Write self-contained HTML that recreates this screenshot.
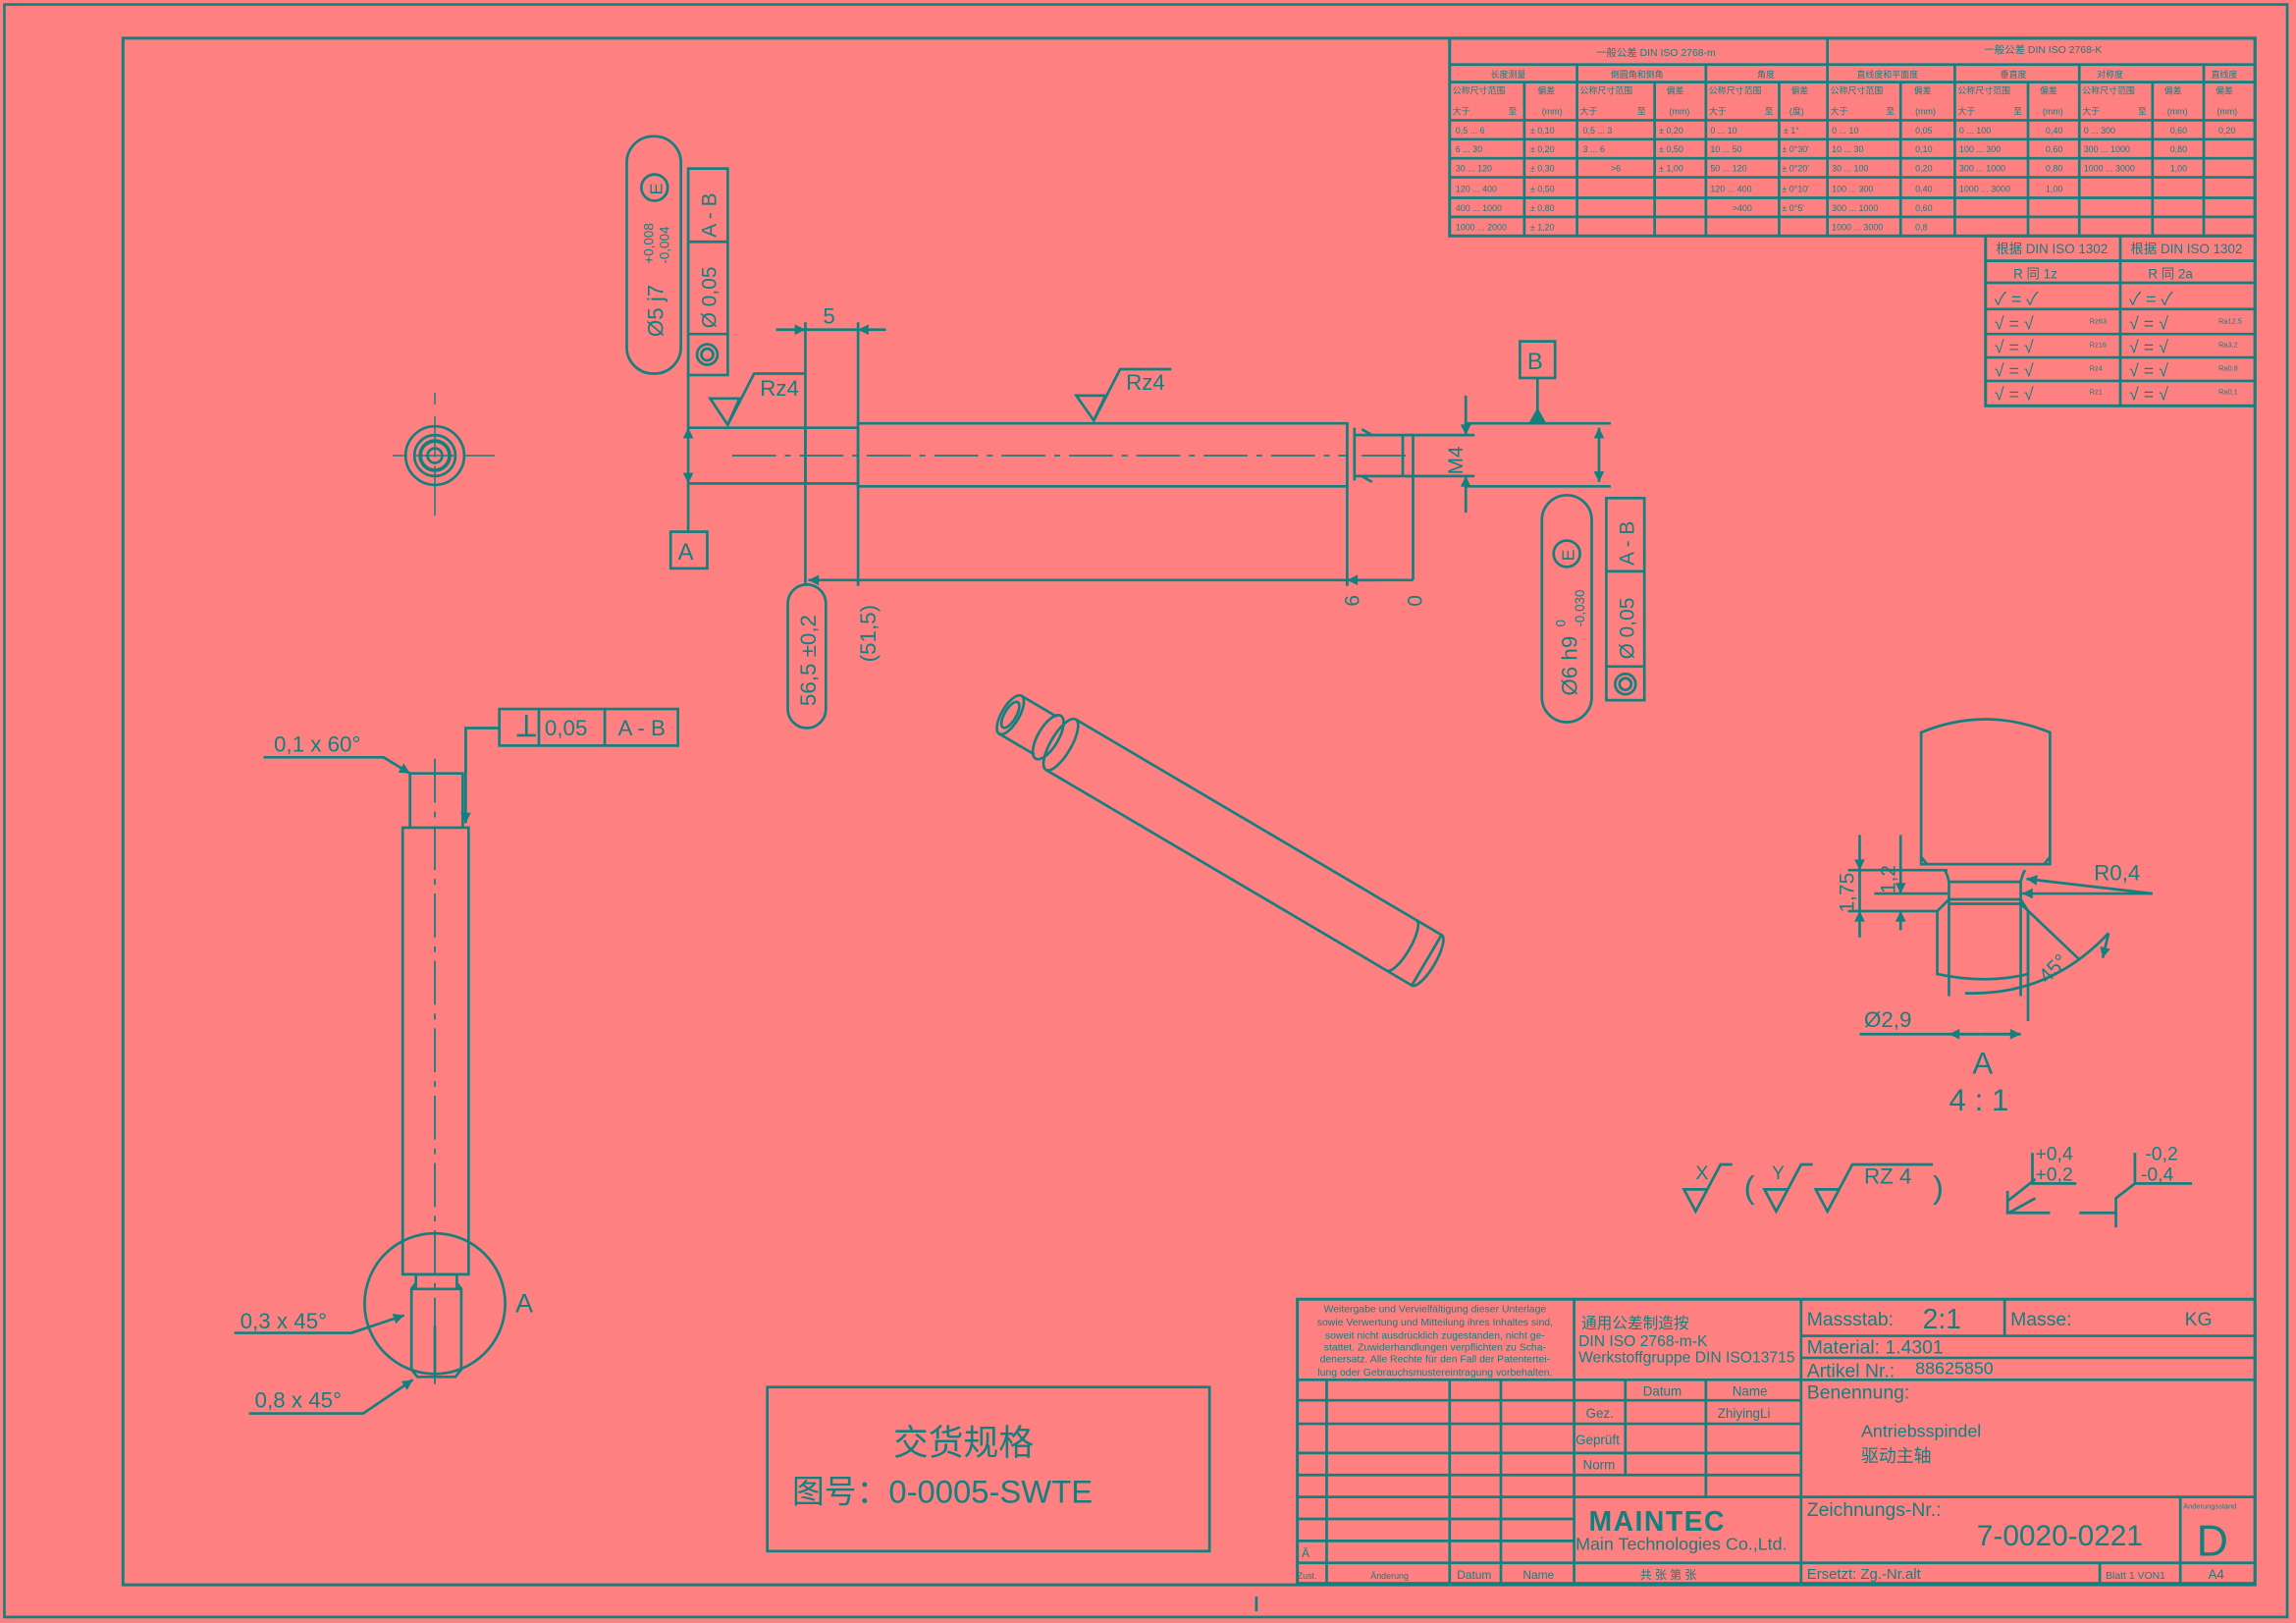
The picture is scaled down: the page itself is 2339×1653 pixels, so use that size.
<!DOCTYPE html>
<html><head><meta charset="utf-8"><style>
html,body{margin:0;padding:0;background:#FF8080;}
svg{display:block}
text{font-family:"Liberation Sans","Noto Sans CJK SC",sans-serif;fill:#138080}
</style></head><body>
<svg width="2339" height="1653" viewBox="0 0 1568 1108" xmlns="http://www.w3.org/2000/svg">
<defs>
<marker id="ar" viewBox="0 0 10 10" refX="10" refY="5" markerWidth="6" markerHeight="4" orient="auto-start-reverse"><path d="M0,0L10,5L0,10z" fill="#138080"/></marker>
</defs>
<rect width="1568" height="1108" fill="#FF8080"/>
<g fill="none" stroke="#138080" stroke-width="1.8">
<rect x="3" y="3" width="1559" height="1101"/>
<rect x="84" y="26" width="1456" height="1056" stroke-width="2"/>
<line x1="858" y1="1090" x2="858" y2="1100"/>

<rect x="990" y="26" width="550" height="135" stroke-width="2"/>
<line x1="990" y1="44" x2="1540" y2="44"/>
<line x1="990" y1="56" x2="1540" y2="56"/>
<line x1="990" y1="82" x2="1540" y2="82"/>
<line x1="990" y1="95" x2="1540" y2="95"/>
<line x1="990" y1="108" x2="1540" y2="108"/>
<line x1="990" y1="121" x2="1540" y2="121"/>
<line x1="990" y1="135" x2="1540" y2="135"/>
<line x1="990" y1="148" x2="1540" y2="148"/>
<line x1="1248" y1="26" x2="1248" y2="161"/>
<line x1="1077" y1="44" x2="1077" y2="161"/>
<line x1="1165" y1="44" x2="1165" y2="161"/>
<line x1="1335" y1="44" x2="1335" y2="161"/>
<line x1="1420" y1="44" x2="1420" y2="161"/>
<line x1="1505" y1="44" x2="1505" y2="161"/>
<line x1="1041" y1="56" x2="1041" y2="161"/>
<line x1="1130" y1="56" x2="1130" y2="161"/>
<line x1="1215" y1="56" x2="1215" y2="161"/>
<line x1="1298" y1="56" x2="1298" y2="161"/>
<line x1="1385" y1="56" x2="1385" y2="161"/>
<line x1="1470" y1="56" x2="1470" y2="161"/>
<rect x="1356" y="161" width="184" height="116" stroke-width="2"/>
<line x1="1448" y1="161" x2="1448" y2="277"/>
<line x1="1356" y1="178" x2="1540" y2="178"/>
<line x1="1356" y1="193" x2="1540" y2="193"/>
<line x1="1356" y1="211" x2="1540" y2="211"/>
<line x1="1356" y1="228" x2="1540" y2="228"/>
<line x1="1356" y1="244" x2="1540" y2="244"/>
<line x1="1356" y1="260" x2="1540" y2="260"/>

<rect x="886" y="887" width="654" height="194" stroke-width="2"/>
<line x1="886" y1="942" x2="1540" y2="942"/>
<line x1="1075" y1="887" x2="1075" y2="1081"/>
<line x1="1230" y1="887" x2="1230" y2="1081"/>
<line x1="1369" y1="887" x2="1369" y2="912"/>
<line x1="1230" y1="912" x2="1540" y2="912"/>
<line x1="1230" y1="927" x2="1540" y2="927"/>
<line x1="906" y1="942" x2="906" y2="1081"/>
<line x1="990" y1="942" x2="990" y2="1081"/>
<line x1="1025" y1="942" x2="1025" y2="1081"/>
<line x1="886" y1="956" x2="1230" y2="956"/>
<line x1="886" y1="972" x2="1230" y2="972"/>
<line x1="886" y1="992" x2="1230" y2="992"/>
<line x1="886" y1="1007" x2="1230" y2="1007"/>
<line x1="886" y1="1022" x2="1540" y2="1022"/>
<line x1="886" y1="1037" x2="1075" y2="1037"/>
<line x1="886" y1="1052" x2="1075" y2="1052"/>
<line x1="886" y1="1067" x2="1540" y2="1067"/>
<line x1="1110" y1="942" x2="1110" y2="1007"/>
<line x1="1165" y1="942" x2="1165" y2="1022"/>
<line x1="1489" y1="1022" x2="1489" y2="1081"/>
<line x1="1434" y1="1067" x2="1434" y2="1081"/>

<rect x="524" y="947" width="302" height="112"/>

<circle cx="297" cy="311" r="20"/><circle cx="297" cy="311" r="14"/><circle cx="297" cy="311" r="10" stroke-width="2.5"/><circle cx="297" cy="311" r="5"/>
<path d="M268 311h8M284 311h26M318 311h20M297 268v8M297 284v28M297 318v34" stroke-width="1"/>

<path d="M470 292H586M470 330H586M586 289H920V332H586ZM550 292V330"/>
<path d="M920 289V332M925 292V328M925 297H965V325H925M930 293L937 297M930 325L937 329M958 297V325"/>
<path d="M500 311H920M930 311H965" stroke-dasharray="30 6 4 6" stroke-width="1.2"/>
<line x1="1000" y1="289" x2="1100" y2="289"/><line x1="1000" y1="332" x2="1100" y2="332"/>
<line x1="960" y1="297" x2="1007" y2="297"/><line x1="960" y1="325" x2="1007" y2="325"/>
<line x1="1092" y1="292" x2="1092" y2="329" marker-start="url(#ar)" marker-end="url(#ar)"/>
<line x1="1001" y1="270" x2="1001" y2="297" marker-end="url(#ar)"/>
<line x1="1001" y1="350" x2="1001" y2="325" marker-end="url(#ar)"/>
<line x1="470" y1="255" x2="470" y2="292"/>
<line x1="470" y1="292" x2="470" y2="330" marker-start="url(#ar)" marker-end="url(#ar)"/>
<line x1="470" y1="330" x2="470" y2="363"/>
<rect x="458" y="363" width="25" height="25"/>
<rect x="1038" y="233" width="24" height="25"/>
<line x1="1050" y1="258" x2="1050" y2="289"/>
<path d="M1045 289L1050 280L1055 289Z" fill="#138080"/>
<line x1="550" y1="220" x2="550" y2="400"/><line x1="586" y1="220" x2="586" y2="400"/>
<line x1="530" y1="225" x2="550" y2="225" marker-end="url(#ar)"/><line x1="605" y1="225" x2="586" y2="225" marker-end="url(#ar)"/>
<line x1="550" y1="225" x2="586" y2="225"/>
<line x1="920" y1="332" x2="920" y2="400"/><line x1="965" y1="325" x2="965" y2="396"/>
<line x1="552" y1="396" x2="965" y2="396" marker-start="url(#ar)"/>
<line x1="920" y1="396" x2="940" y2="396" marker-start="url(#ar)"/>
<rect x="538" y="399" width="26" height="98" rx="13"/>
<path d="M485 272H505L497 290ZM497 290L515 255H550"/>
<path d="M735 270H755L747 287ZM747 287L765 252H800"/>
<rect x="428" y="93" width="37" height="162" rx="18"/>
<rect x="470" y="115" width="27" height="141"/>
<line x1="470" y1="165" x2="497" y2="165"/><line x1="470" y1="228" x2="497" y2="228"/>
<circle cx="483" cy="242" r="7"/><circle cx="483" cy="242" r="4"/>
<rect x="1053" y="338" width="34" height="155" rx="17"/>
<rect x="1097" y="340" width="26" height="138"/>
<line x1="1097" y1="390" x2="1123" y2="390"/><line x1="1097" y1="455" x2="1123" y2="455"/>
<circle cx="1110" cy="467" r="7"/><circle cx="1110" cy="467" r="4"/>
<circle cx="447" cy="128" r="9"/><circle cx="1070" cy="378" r="9"/>

<g transform="translate(690,488) rotate(30.5)">
<path d="M40 -20H330V20H40"/>
<path d="M330 -20A6 20 0 0 1 330 20"/>
<path d="M310 -20A6 20 0 0 1 310 20"/>
<ellipse cx="40" cy="0" rx="7" ry="20"/>
<ellipse cx="30" cy="0" rx="7" ry="17"/>
<path d="M0 -15H28M0 15H28"/>
<ellipse cx="0" cy="0" rx="6" ry="15"/>
<ellipse cx="0" cy="0" rx="4" ry="10"/>
</g>

<path d="M280 528H316V565H280ZM275 565H320V870H275Z"/>
<path d="M284 870H312V880H284ZM281 880L284 876M315 880L312 876M281 880H315V935L311 940H285L281 935Z"/>
<line x1="297" y1="905" x2="297" y2="940"/>
<path d="M297 518V945" stroke-dasharray="30 6 4 6" stroke-width="1.2"/>
<circle cx="297" cy="890" r="48"/>
<path d="M180 517H262L280 528" marker-end="url(#ar)"/>
<path d="M318 528V497H341"/>
<line x1="318" y1="497" x2="318" y2="562" marker-end="url(#ar)"/>
<rect x="341" y="484" width="122" height="25"/>
<line x1="368" y1="484" x2="368" y2="509"/><line x1="413" y1="484" x2="413" y2="509"/>
<path d="M353 502H366M359.5 488V502"/>
<path d="M160 910H240L276 898" marker-end="url(#ar)"/>
<path d="M170 965H248L282 942" marker-end="url(#ar)"/>

<path d="M1312 590V500Q1356 482 1400 500V590Z"/>
<path d="M1312 585L1316 590H1396L1400 585"/>
<path d="M1328 594Q1330 597 1331 602V680M1383 594Q1381 597 1380 602V680"/>
<line x1="1331" y1="602" x2="1380" y2="602"/>
<line x1="1331" y1="614" x2="1380" y2="614"/>
<line x1="1331" y1="617" x2="1380" y2="617"/>
<path d="M1331 614L1323 622V665Q1356 672 1385 665V622L1380 614"/>
<line x1="1385" y1="622" x2="1385" y2="697"/>
<line x1="1380" y1="617" x2="1420" y2="655"/>
<path d="M1342 678Q1400 680 1440 637" />
<line x1="1440" y1="637" x2="1436" y2="654" marker-end="url(#ar)"/>
<line x1="1262" y1="594" x2="1330" y2="594"/>
<line x1="1280" y1="610" x2="1330" y2="610"/>
<line x1="1262" y1="622" x2="1323" y2="622"/>
<line x1="1270" y1="570" x2="1270" y2="594" marker-end="url(#ar)"/><line x1="1270" y1="640" x2="1270" y2="622" marker-end="url(#ar)"/>
<line x1="1270" y1="594" x2="1270" y2="622"/>
<line x1="1298" y1="570" x2="1298" y2="610" marker-end="url(#ar)"/><line x1="1298" y1="635" x2="1298" y2="622" marker-end="url(#ar)"/>
<line x1="1470" y1="610" x2="1384" y2="600" marker-end="url(#ar)"/>
<line x1="1470" y1="610" x2="1381" y2="610" marker-end="url(#ar)"/>
<line x1="1270" y1="706" x2="1380" y2="706"/>
<line x1="1350" y1="706" x2="1331" y2="706" marker-end="url(#ar)"/>
<line x1="1355" y1="706" x2="1380" y2="706" marker-end="url(#ar)"/>

<path d="M1150 812H1166L1158 827ZM1158 827L1175 795H1183"/>
<path d="M1205 812H1221L1213 827ZM1213 827L1230 795H1238"/>
<path d="M1240 812H1256L1248 827ZM1248 827L1265 795H1320"/>
<path d="M1388 787V808H1418M1370 828H1400M1390 818L1372 828" />
<path d="M1371 820L1390 805M1371 813V828"/>
<path d="M1458 787V808H1497M1420 828H1445M1445 838V818L1458 808"/>
</g>

<g font-size="6">
<text x="1090" y="38" font-size="7">一般公差 DIN ISO 2768-m</text>
<text x="1355" y="36" font-size="7">一般公差 DIN ISO 2768-K</text>
<text x="1018" y="53">长度测量</text><text x="1100" y="53">倒圆角和倒角</text><text x="1200" y="53">角度</text>
<text x="1268" y="53">直线度和平面度</text><text x="1366" y="53">垂直度</text><text x="1432" y="53">对称度</text><text x="1510" y="53">直线度</text>
<g>
<text x="992" y="64">公称尺寸范围</text><text x="1050" y="64">偏差</text><text x="1079" y="64">公称尺寸范围</text><text x="1138" y="64">偏差</text><text x="1167" y="64">公称尺寸范围</text><text x="1223" y="64">偏差</text>
<text x="1250" y="64">公称尺寸范围</text><text x="1307" y="64">偏差</text><text x="1337" y="64">公称尺寸范围</text><text x="1393" y="64">偏差</text><text x="1422" y="64">公称尺寸范围</text><text x="1478" y="64">偏差</text><text x="1513" y="64">偏差</text>
<text x="992" y="78">大于</text><text x="1030" y="78">至</text><text x="1053" y="78">(mm)</text><text x="1079" y="78">大于</text><text x="1118" y="78">至</text><text x="1140" y="78">(mm)</text><text x="1167" y="78">大于</text><text x="1205" y="78">至</text><text x="1222" y="78">(度)</text>
<text x="1250" y="78">大于</text><text x="1288" y="78">至</text><text x="1308" y="78">(mm)</text><text x="1337" y="78">大于</text><text x="1375" y="78">至</text><text x="1395" y="78">(mm)</text><text x="1422" y="78">大于</text><text x="1460" y="78">至</text><text x="1480" y="78">(mm)</text><text x="1514" y="78">(mm)</text>
</g>
<text x="994" y="91">0,5   ...      6</text><text x="1045" y="91">± 0,10</text><text x="1081" y="91">0,5   ...     3</text><text x="1133" y="91">±  0,20</text><text x="1168" y="91">0    ...    10</text><text x="1218" y="91">±   1°</text><text x="1251" y="91">0     ...     10</text><text x="1308" y="91">0,05</text><text x="1338" y="91">0    ...    100</text><text x="1397" y="91">0,40</text><text x="1423" y="91">0    ...    300</text><text x="1482" y="91">0,60</text><text x="1515" y="91">0,20</text>
<text x="994" y="104">6     ...     30</text><text x="1045" y="104">± 0,20</text><text x="1081" y="104">3     ...     6</text><text x="1133" y="104">±  0,50</text><text x="1168" y="104">10   ...    50</text><text x="1217" y="104">± 0°30'</text><text x="1251" y="104">10    ...     30</text><text x="1308" y="104">0,10</text><text x="1338" y="104">100  ...  300</text><text x="1397" y="104">0,60</text><text x="1423" y="104">300  ... 1000</text><text x="1482" y="104">0,80</text>
<text x="994" y="117">30    ...   120</text><text x="1045" y="117">± 0,30</text><text x="1100" y="117">&gt;6</text><text x="1133" y="117">± 1,00</text><text x="1168" y="117">50   ...   120</text><text x="1217" y="117">± 0°20'</text><text x="1251" y="117">30    ...   100</text><text x="1308" y="117">0,20</text><text x="1338" y="117">300  ... 1000</text><text x="1397" y="117">0,80</text><text x="1423" y="117">1000 ... 3000</text><text x="1482" y="117">1,00</text>
<text x="994" y="131">120  ...   400</text><text x="1045" y="131">± 0,50</text><text x="1168" y="131">120  ...  400</text><text x="1217" y="131">± 0°10'</text><text x="1251" y="131">100   ...   300</text><text x="1308" y="131">0,40</text><text x="1338" y="131">1000 ... 3000</text><text x="1397" y="131">1,00</text>
<text x="994" y="144">400  ...  1000</text><text x="1045" y="144">± 0,80</text><text x="1183" y="144">&gt;400</text><text x="1217" y="144">± 0°5'</text><text x="1251" y="144">300   ...  1000</text><text x="1308" y="144">0,60</text>
<text x="994" y="157">1000 ...  2000</text><text x="1045" y="157">± 1,20</text><text x="1251" y="157">1000  ... 3000</text><text x="1308" y="157">0,8</text>
</g>
<g font-size="9">
<text x="1363" y="173">根据  DIN ISO 1302</text><text x="1455" y="173">根据  DIN ISO 1302</text>
<text x="1375" y="190">R 同 1z</text><text x="1467" y="190">R 同 2a</text>
</g>
<g font-size="12">
<text x="1362" y="208">✓    =    ✓</text><text x="1454" y="208">✓    =    ✓</text>
<text x="1362" y="225">√    =    √</text><text x="1454" y="225">√    =    √</text>
<text x="1362" y="241">√    =    √</text><text x="1454" y="241">√    =    √</text>
<text x="1362" y="257">√    =    √</text><text x="1454" y="257">√    =    √</text>
<text x="1362" y="273">√    =    √</text><text x="1454" y="273">√    =    √</text>
</g>
<g font-size="5"><text x="1427" y="221">Rz63</text><text x="1427" y="237">Rz16</text><text x="1427" y="253">Rz4</text><text x="1427" y="269">Rz1</text>
<text x="1515" y="221">Ra12,5</text><text x="1515" y="237">Ra3,2</text><text x="1515" y="253">Ra0,8</text><text x="1515" y="269">Ra0,1</text></g>

<text x="562" y="221" font-size="15">5</text>
<text x="519" y="270" font-size="15">Rz4</text>
<text x="769" y="266" font-size="15">Rz4</text>
<text x="463" y="382" font-size="16">A</text>
<text x="1043" y="252" font-size="16">B</text>
<text transform="translate(999,324) rotate(-90)" font-size="14">M4</text>
<text transform="translate(928,414) rotate(-90)" font-size="14">6</text>
<text transform="translate(971,414) rotate(-90)" font-size="14">0</text>
<text transform="translate(557,482) rotate(-90)" font-size="15">56,5 ±0,2</text>
<text transform="translate(598,452) rotate(-90)" font-size="15">(51,5)</text>
<text transform="translate(453,230) rotate(-90)" font-size="15">Ø5 j7</text>
<text transform="translate(446,180) rotate(-90)" font-size="9">+0,008</text>
<text transform="translate(457,180) rotate(-90)" font-size="9">-0,004</text>
<text transform="translate(452,133) rotate(-90)" font-size="12">E</text>
<text transform="translate(489,162) rotate(-90)" font-size="14">A - B</text>
<text transform="translate(489,224) rotate(-90)" font-size="14">Ø 0,05</text>
<text transform="translate(1077,475) rotate(-90)" font-size="15">Ø6 h9</text>
<text transform="translate(1069,428) rotate(-90)" font-size="9">0</text>
<text transform="translate(1082,428) rotate(-90)" font-size="9">-0,030</text>
<text transform="translate(1075,383) rotate(-90)" font-size="12">E</text>
<text transform="translate(1116,386) rotate(-90)" font-size="14">A - B</text>
<text transform="translate(1116,450) rotate(-90)" font-size="14">Ø 0,05</text>
<text x="187" y="513" font-size="15">0,1 x 60°</text>
<text x="372" y="502" font-size="15">0,05</text>
<text x="422" y="502" font-size="15">A - B</text>
<text x="164" y="907" font-size="15">0,3 x 45°</text>
<text x="174" y="961" font-size="15">0,8 x 45°</text>
<text x="352" y="896" font-size="18">A</text>
<text x="1430" y="601" font-size="15">R0,4</text>
<text transform="translate(1266,623) rotate(-90)" font-size="14">1,75</text>
<text transform="translate(1294,610) rotate(-90)" font-size="14">1,2</text>
<text transform="translate(1398,672) rotate(-45)" font-size="14">45°</text>
<text x="1273" y="701" font-size="15">Ø2,9</text>
<text x="1347" y="733" font-size="21">A</text>
<text x="1331" y="758" font-size="21">4 : 1</text>
<text x="1158" y="805" font-size="13">X</text>
<text x="1210" y="805" font-size="13">Y</text>
<text x="1191" y="818" font-size="22">(</text>
<text x="1273" y="808" font-size="15">RZ  4</text>
<text x="1320" y="818" font-size="22">)</text>
<text x="1390" y="792" font-size="13">+0,4</text><text x="1390" y="806" font-size="13">+0,2</text>
<text x="1465" y="792" font-size="13">-0,2</text><text x="1462" y="806" font-size="13">-0,4</text>
<text x="610" y="993" font-size="24" font-family="Noto Serif CJK SC, serif">交货规格</text>
<text x="541" y="1026" font-size="22">图号：0-0005-SWTE</text>

<g font-size="7" text-anchor="middle">
<text x="980" y="896">Weitergabe und Vervielfältigung dieser Unterlage</text>
<text x="980" y="905">sowie Verwertung und Mitteilung ihres Inhaltes sind,</text>
<text x="980" y="914">soweit nicht ausdrücklich zugestanden, nicht ge-</text>
<text x="980" y="922">stattet. Zuwiderhandlungen verpflichten zu Scha-</text>
<text x="980" y="930">denersatz. Alle Rechte für den Fall der Patentertei-</text>
<text x="980" y="939">lung oder Gebrauchsmustereintragung vorbehalten.</text>
</g>
<g font-size="10.5">
<text x="1080" y="907">通用公差制造按</text>
<text x="1078" y="919">DIN ISO 2768-m-K</text>
<text x="1078" y="930">Werkstoffgruppe DIN ISO13715</text>
</g>
<text x="1234" y="905" font-size="13">Massstab:</text><text x="1313" y="907" font-size="19">2:1</text>
<text x="1373" y="905" font-size="13">Masse:</text><text x="1492" y="905" font-size="13">KG</text>
<text x="1234" y="924" font-size="13">Material:   1.4301</text>
<text x="1234" y="940" font-size="13">Artikel Nr.:</text><text x="1308" y="938" font-size="12">88625850</text>
<text x="1234" y="955" font-size="13">Benennung:</text>
<text x="1271" y="981" font-size="12">Antriebsspindel</text>
<text x="1271" y="998" font-size="12">驱动主轴</text>
<text x="1234" y="1035" font-size="13">Zeichnungs-Nr.:</text>
<text x="1350" y="1055" font-size="20">7-0020-0221</text>
<text x="1491" y="1030" font-size="5">Änderungsstand</text>
<text x="1500" y="1062" font-size="30">D</text>
<text x="1234" y="1078" font-size="10">Ersetzt: Zg.-Nr.alt</text>
<text x="1438" y="1078" font-size="7">Blatt 1 VON1</text>
<text x="1508" y="1078" font-size="9">A4</text>
<g font-size="9">
<text x="1122" y="953">Datum</text><text x="1183" y="953">Name</text>
<text x="1083" y="968">Gez.</text><text x="1173" y="968" font-family="Liberation Mono, monospace">ZhiyingLi</text>
<text x="1076" y="986">Geprüft</text>
<text x="1081" y="1003">Norm</text>
<text x="889" y="1063" font-size="8">Ä</text>
<text x="886" y="1078" font-size="6">Zust.</text><text x="936" y="1078" font-size="6">Änderung</text>
<text x="995" y="1078" font-size="8">Datum</text><text x="1040" y="1078" font-size="8">Name</text>
<text x="1120" y="1078" font-size="8">共  张 第  张</text>
</g>
<text x="1085" y="1045" font-size="19" font-weight="bold" letter-spacing="1">MAINTEC</text>
<text x="1076" y="1058" font-size="12">Main Technologies Co.,Ltd.</text>
</svg>
</body></html>
